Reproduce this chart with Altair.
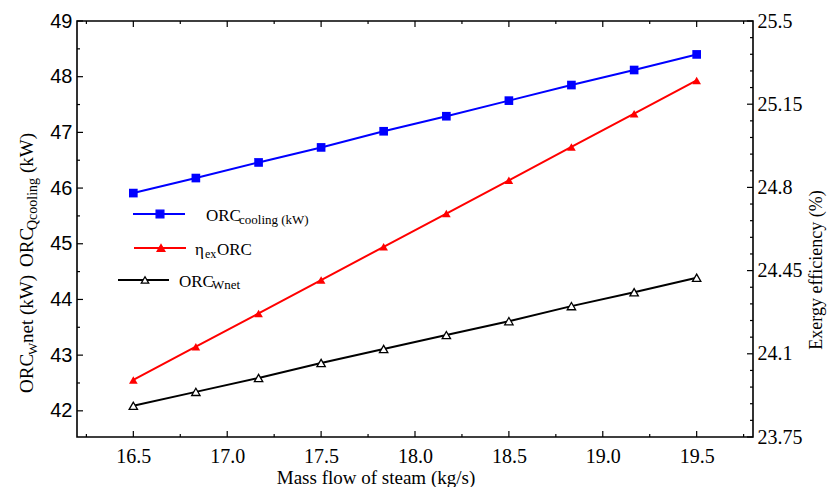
import altair as alt
import pandas as pd

# ---- data ----
mass_flow = [16.5, 16.833, 17.167, 17.5, 17.833, 18.167, 18.5, 18.833, 19.167, 19.5]
q_cooling = [45.91, 46.18, 46.46, 46.73, 47.02, 47.29, 47.57, 47.85, 48.12, 48.40]
w_net = [42.09, 42.34, 42.59, 42.86, 43.11, 43.36, 43.61, 43.88, 44.13, 44.39]
exergy_eff = [23.99, 24.13, 24.27, 24.41, 24.55, 24.69, 24.83, 24.97, 25.11, 25.25]

x_major = [16.5, 17, 17.5, 18, 18.5, 19, 19.5]
x_minor = [16.25, 16.75, 17.25, 17.75, 18.25, 18.75, 19.25, 19.75]
left_major = [42, 43, 44, 45, 46, 47, 48, 49]
left_minor = [42.5, 43.5, 44.5, 45.5, 46.5, 47.5, 48.5]
right_major = [23.75, 24.1, 24.45, 24.8, 25.15, 25.5]
right_minor = [23.82, 23.89, 23.96, 24.03, 24.17, 24.24, 24.31, 24.38,
               24.52, 24.59, 24.66, 24.73, 24.87, 24.94, 25.01, 25.08,
               25.22, 25.29, 25.36, 25.43]

W, H = 676, 416
SERIF = "Liberation Serif"
SANS = "Liberation Sans"

df = pd.DataFrame({"x": mass_flow, "q": q_cooling, "w": w_net, "e": exergy_eff})

xs = alt.Scale(domain=[16.2, 19.8], nice=False, zero=False)
yl = alt.Scale(domain=[41.53, 49], nice=False, zero=False)
yr = alt.Scale(domain=[23.75, 25.5], nice=False, zero=False)

xaxis = alt.Axis(values=x_major, ticks=False, tickSize=0, domain=False, grid=False,
                 labelFont=SERIF, labelFontSize=20, labelColor="black", labelPadding=9,
                 title=None, labelFlush=False)
left_axis = alt.Axis(values=left_major, orient="left", ticks=False, tickSize=0, domain=False,
                     grid=False, labelFont=SANS, labelFontSize=20, labelColor="black",
                     labelPadding=5, title=None, labelFlush=False)
right_axis = alt.Axis(values=right_major, orient="right", ticks=False, tickSize=0, domain=False,
                      grid=False, labelFont=SERIF, labelFontSize=20, labelColor="black",
                      labelPadding=4, title=None, labelFlush=False, format=".2~f")

X = alt.X("x:Q", scale=xs, axis=xaxis)

blue_line = alt.Chart(df).mark_line(color="#0000ff", strokeWidth=2).encode(
    x=X, y=alt.Y("q:Q", scale=yl, axis=left_axis))
blue_pts = alt.Chart(df).mark_point(shape="square", filled=True, size=75, color="#0000ff", opacity=1).encode(
    x=X, y=alt.Y("q:Q", scale=yl, axis=None))
black_line = alt.Chart(df).mark_line(color="black", strokeWidth=2).encode(
    x=X, y=alt.Y("w:Q", scale=yl, axis=None))
black_pts = alt.Chart(df).mark_point(shape="triangle-up", filled=True, size=70, color="white",
                                     stroke="black", strokeWidth=1.3, opacity=1).encode(
    x=X, y=alt.Y("w:Q", scale=yl, axis=None))
red_line = alt.Chart(df).mark_line(color="#ff0000", strokeWidth=2).encode(
    x=X, y=alt.Y("e:Q", scale=yr, axis=right_axis))
red_pts = alt.Chart(df).mark_point(shape="triangle-up", filled=True, size=75, color="#ff0000", opacity=1).encode(
    x=X, y=alt.Y("e:Q", scale=yr, axis=None))

# ---- inward tick marks, placed through the scales ----
def xticks(vals, length, top):
    d = pd.DataFrame({"t": vals})
    y0, y1 = (0, length) if top else (H, H - length)
    return alt.Chart(d).mark_rule(color="black", strokeWidth=1.2).encode(
        x=alt.X("t:Q", scale=xs, axis=xaxis), y=alt.value(y0), y2=alt.value(y1))

def yticks(vals, scale, length, right):
    d = pd.DataFrame({"t": vals})
    x0, x1 = (W, W - length) if right else (0, length)
    return alt.Chart(d).mark_rule(color="black", strokeWidth=1.2).encode(
        y=alt.Y("t:Q", scale=scale, axis=None), x=alt.value(x0), x2=alt.value(x1))

ticks = [
    xticks(x_major, 6, False), xticks(x_minor, 3, False),
    xticks(x_major, 6, True), xticks(x_minor, 3, True),
    yticks(left_major, yl, 6, False), yticks(left_minor, yl, 3, False),
    yticks(right_major, yr, 6, True), yticks(right_minor, yr, 3, True),
]

one = pd.DataFrame({"a": [0]})

def txt(s, x, y, size, angle=0, align="left", font=SERIF):
    kw = dict(text=s, font=font, fontSize=size, color="black", align=align, baseline="alphabetic")
    if angle:
        kw["angle"] = angle
    return alt.Chart(one).mark_text(**kw).encode(x=alt.value(x), y=alt.value(y))

def lrule(x0, x1, y, color):
    return alt.Chart(one).mark_rule(color=color, strokeWidth=2).encode(
        x=alt.value(x0), x2=alt.value(x1), y=alt.value(y))

def lpt(x, y, shape, fill, stroke, size):
    return alt.Chart(one).mark_point(shape=shape, filled=True, fill=fill, stroke=stroke,
                                     strokeWidth=1.3, size=size, opacity=1).encode(
        x=alt.value(x), y=alt.value(y))

legend = [
    lrule(56, 108, 193, "#0000ff"), lpt(83, 193, "square", "#0000ff", "#0000ff", 60),
    txt("ORC", 129, 200, 17), txt("cooling (kW)", 162, 203, 13),
    lrule(57, 109, 227, "#ff0000"), lpt(84, 227, "triangle-up", "#ff0000", "#ff0000", 60),
    txt("η", 118, 234, 17), txt("ex", 128, 237, 12), txt("ORC", 140, 234, 17),
    lrule(41, 92, 259, "black"), lpt(68, 259, "triangle-up", "white", "black", 55),
    txt("ORC", 102, 266, 17), txt("Wnet", 135, 268, 13),
]

titles = [
    txt("Mass flow of steam (kg/s)", 299, 463, 19, align="center"),
    txt("Exergy efficiency (%)", 745, 249, 18, angle=270, align="center"),
    txt("ORC", -44, 372, 19, angle=270),
    txt("W", -40, 334, 13, angle=270),
    txt("net (kW)", -44, 322, 19, angle=270),
    txt("ORC", -44, 246, 19, angle=270),
    txt("Qcooling", -40, 209, 14, angle=270),
    txt("(kW)", -44, 152, 19, angle=270),
]

chart = alt.layer(
    blue_line, blue_pts, black_line, black_pts, red_line, red_pts,
    *ticks, *legend, *titles
).resolve_scale(y="independent").properties(
    width=W, height=H,
    autosize=alt.AutoSizeParams(type="none"),
    padding={"left": 69, "top": 13, "right": 74, "bottom": 50},
    background="white",
).configure_view(
    stroke="black", strokeWidth=1.6
).configure_axis(
    labelFont=SERIF, labelFontSize=20, labelColor="black"
).configure_axisLeft(
    labelFont=SANS
).configure_axisRight(
    labelFont=SERIF
).configure_axisBottom(
    labelFont=SERIF
)

chart.save("out.html", embed_options={"renderer": "svg", "actions": False})
